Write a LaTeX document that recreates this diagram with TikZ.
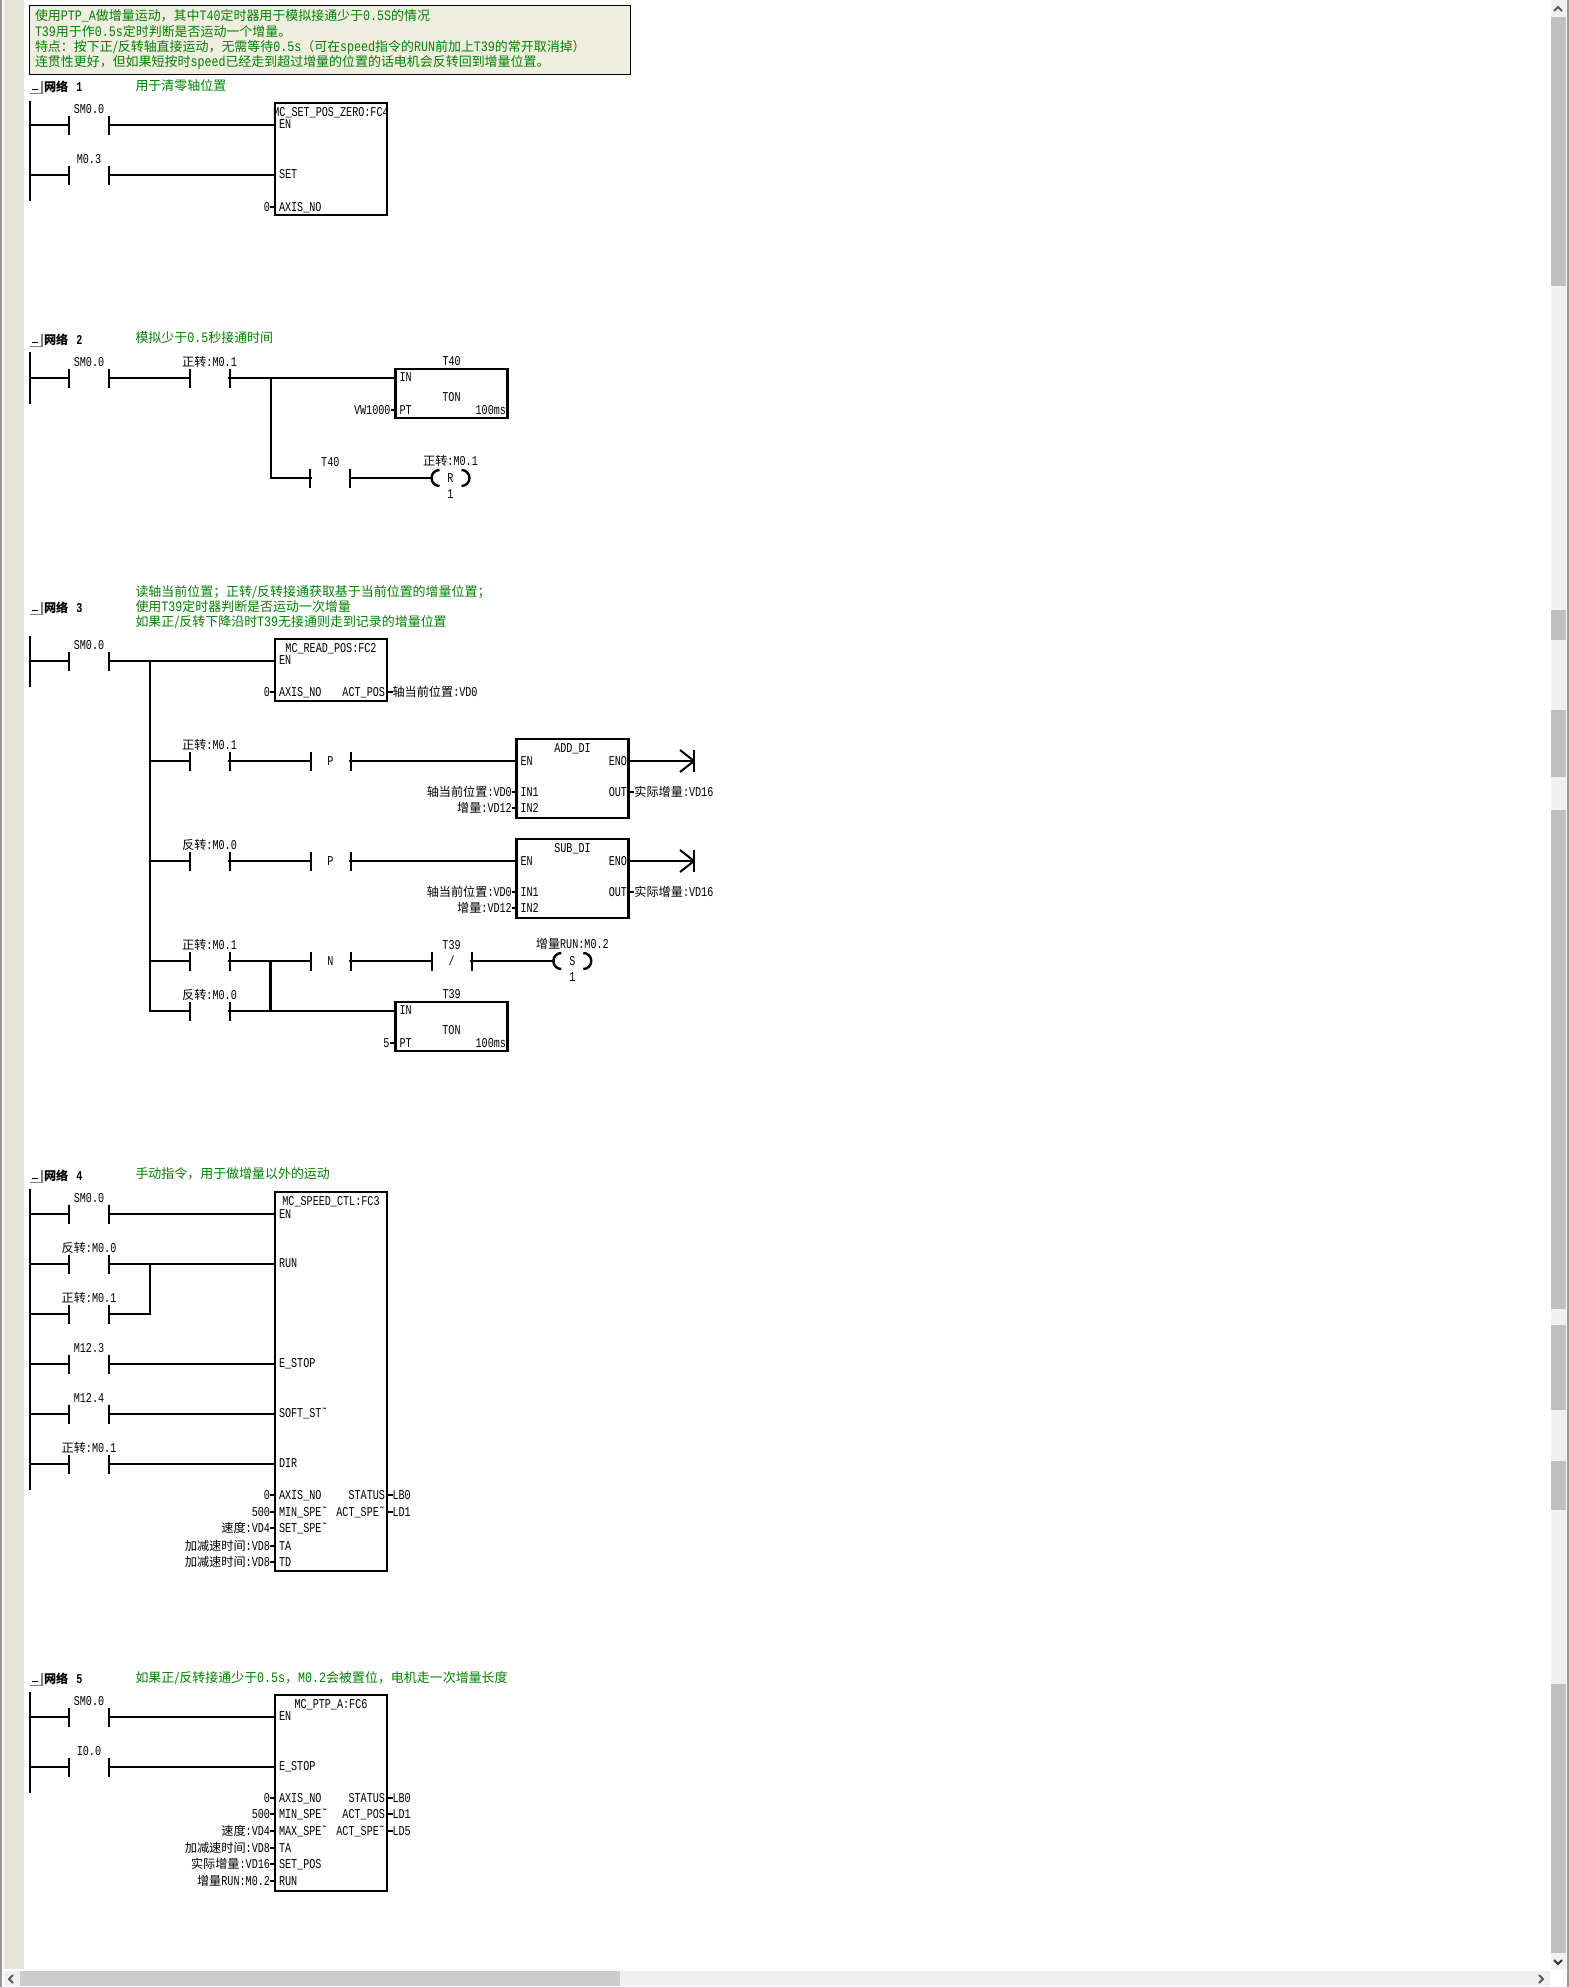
\documentclass[tikz,border=0pt]{standalone}
\usepackage{fontspec}
\setmainfont{Liberation Mono}[FakeStretch=0.75]
\newfontfamily\cjkfont{Noto Sans CJK SC}[Scale=0.9]
\newfontfamily\notefont{Liberation Mono}[FakeStretch=0.81]
\usetikzlibrary{positioning}
\definecolor{gutter}{HTML}{E6E4D8}
\definecolor{memofill}{HTML}{F0EEE1}
\definecolor{notegreen}{HTML}{008000}
\definecolor{sbtrack}{HTML}{F0F0F0}
\definecolor{sbthumb}{HTML}{BFBFBF}
\newcommand{\zh}[1]{{\cjkfont #1}}
\newcommand{\fwd}{\zh{正转}:M0.1}
\newcommand{\rev}{\zh{反转}:M0.0}

\begin{document}
\begin{tikzpicture}[x=.5pt,y=-.5pt]
\tikzstyle{every node}=[font=\fontsize{6.75}{8}\selectfont,inner sep=0,outer sep=0,
  text height=5.6pt,text depth=.9pt]
\tikzstyle{wire}=[line width=1.2pt,line cap=rect]
\tikzstyle{stub}=[line width=1.2pt]
\tikzstyle{barline}=[line width=1pt]
\tikzstyle{note}=[anchor=west,text=notegreen,font=\notefont\fontsize{7.2}{9}\selectfont]
\tikzstyle{netname}=[anchor=west,font=\fontsize{6.75}{8}\selectfont\bfseries]
\tikzstyle{fold}=[minimum width=6pt,minimum height=5.5pt,
  append after command={
    (\tikzlastnode.north east) edge[gray,line width=.8pt] (\tikzlastnode.south east)
    (\tikzlastnode.south east) edge[gray,line width=.8pt] (\tikzlastnode.south west)
    ([xshift=1pt,yshift=-1pt]\tikzlastnode.west) edge[black,line width=.5pt]
      ([xshift=4pt,yshift=-1pt]\tikzlastnode.west)}]
\tikzstyle{contact}=[minimum width=20pt,minimum height=9.5pt,
  every label/.style={yshift=.5pt},
  append after command={
    (\tikzlastnode.north west) edge[barline] (\tikzlastnode.south west)
    (\tikzlastnode.north east) edge[barline] (\tikzlastnode.south east)}]
\tikzstyle{coil}=[minimum width=19pt,minimum height=8pt,
  append after command={
    (\tikzlastnode.west) edge[wire,line cap=butt,out=90,in=180] ([xshift=4pt]\tikzlastnode.north west)
    (\tikzlastnode.west) edge[wire,line cap=butt,out=-90,in=180] ([xshift=4pt]\tikzlastnode.south west)
    (\tikzlastnode.east) edge[wire,line cap=butt,out=90,in=0] ([xshift=-4pt]\tikzlastnode.north east)
    (\tikzlastnode.east) edge[wire,line cap=butt,out=-90,in=0] ([xshift=-4pt]\tikzlastnode.south east)}]
\tikzstyle{endmark}=[minimum width=7pt,minimum height=11pt,
  append after command={
    (\tikzlastnode.north east) edge[barline] (\tikzlastnode.south east)
    (\tikzlastnode.north west) edge[barline] (\tikzlastnode.east)
    (\tikzlastnode.south west) edge[barline] (\tikzlastnode.east)}]
\tikzstyle{fblock}=[draw,line width=1.25pt,anchor=north west,minimum width=56pt]
\tikzstyle{inpin}=[anchor=west]
\tikzstyle{outpin}=[anchor=east]
\tikzstyle{lval}=[anchor=east]
\tikzstyle{rval}=[anchor=west]

\useasboundingbox (0,0) rectangle (1569,1987);

% window
\fill[gutter] (3.5,0) rectangle (24,1969);
\fill[gray!80] (0,0) rectangle (2,1987);
\fill[gray!80] (1567,0) rectangle (1569,1987);

% text at the top
\node[draw,line width=.5pt,fill=memofill,anchor=north west,minimum width=300.5pt,minimum height=34.5pt] (memo) at (29,5) {};
\node[note] (memo1) at (35,16) {\zh{使用}PTP\_A\zh{做增量运动，其中}T40\zh{定时器用于模拟接通少于}0.5S\zh{的情况}};
\node[note] (memo2) at (35,32) {T39\zh{用于作}0.5s\zh{定时判断是否运动一个增量。}};
\node[note] (memo3) at (35,47) {\zh{特点：按下正/反转轴直接运动，无需等待}0.5s\zh{（可在}speed\zh{指令的}RUN\zh{前加上}T39\zh{的常开取消掉）}};
\node[note] (memo4) at (35,62) {\zh{连贯性更好，但如果短按时}speed\zh{已经走到超过增量的位置的话电机会反转回到增量位置。}};

% network titles
\foreach \n/\y in {1/87,2/340,3/608,4/1176,5/1679} {
  \node[fold] (fold\n) at (36,\y) {};
  \node[netname] (net\n) at (44,\y) {\zh{网络}\hspace{4pt}\n};
}
\node[note] (note1) at (135.5,86) {\zh{用于清零轴位置}};
\node[note] (note2) at (135.5,338) {\zh{模拟少于}0.5\zh{秒接通时间}};
\node[note] (note3a) at (135.5,592) {\zh{读轴当前位置；正转/反转接通获取基于当前位置的增量位置；}};
\node[note] (note3b) at (135.5,607) {\zh{使用}T39\zh{定时器判断是否运动一次增量}};
\node[note] (note3c) at (135.5,622) {\zh{如果正/反转下降沿时}T39\zh{无接通则走到记录的增量位置}};
\node[note] (note4) at (135.5,1174) {\zh{手动指令，用于做增量以外的运动}};
\node[note] (note5) at (135.5,1678) {\zh{如果正/反转接通少于}0.5s\zh{，}M0.2\zh{会被置位，电机走一次增量长度}};

% network 1
\coordinate (r1t) at (30,102);
\coordinate (r1b) at (30,200);
\draw[wire] (r1t) -- (r1b);
\node[fblock,minimum height=56pt] (b1) at (275,103) {};
\node[below=1pt of b1.north] (b1t) {MC\_SET\_POS\_ZERO:FC4};
\node[contact,label={above:SM0.0}] (n1a) at (89,125) {};
\node[contact,label={above:M0.3}] (n1b) at (89,175) {};
\foreach \c in {n1a,n1b} {
  \draw[wire] (r1t |- \c) -- (\c);
  \draw[wire] (\c) -- (b1.west |- \c);
}
\node[inpin] (p124) at (279,124) {EN};
\node[inpin] (p174) at (279,174) {SET};
\node[inpin] (p207) at (279,207) {AXIS\_NO};
\node[lval] (v207) at (270,207) {0};
\draw[stub] (v207) -- (b1.west |- v207);

% network 2
\coordinate (r2t) at (30,353);
\coordinate (r2b) at (30,403);
\draw[wire] (r2t) -- (r2b);
\node[contact,label={above:SM0.0}] (n2a) at (89,378) {};
\node[contact,label={above:\fwd}] (n2b) at (209.5,378) {};
\node[fblock,minimum height=24.5pt] (b2) at (395.7,369) {};
\node[above=.75pt of b2.north] (b2t) {T40};
\node (b2f) at (451.5,397) {TON};
\node[inpin] (p377) at (399.5,377) {IN};
\node[inpin] (p410) at (399.5,410) {PT};
\node[outpin] (q410) at (506,410) {100ms};
\node[lval] (v410) at (390.5,410) {VW1000};
\coordinate (n2j) at (270.8,378);
\node[contact,label={above:T40}] (n2c) at (330.3,478) {};
\node[coil,label={[label distance=1.5pt]above:\fwd},label={[label distance=.4pt]below:1}] (n2d) at (450.5,478) {R};
\draw[wire] (r2t |- n2a) -- (n2a);
\draw[wire] (n2a) -- (n2b);
\draw[wire] (n2b) -- (b2.west |- n2b);
\draw[wire] (n2j) |- (n2c);
\draw[wire] (n2c) -- (n2d);
\draw[stub] (v410) -- (b2.west |- v410);

% network 3
\coordinate (r3t) at (30,637);
\coordinate (r3b) at (30,686);
\draw[wire] (r3t) -- (r3b);
\node[contact,label={above:SM0.0}] (n3a) at (89,661) {};
\node[fblock,minimum height=31pt] (b3) at (275,639) {};
\node[below=1pt of b3.north] (b3t) {MC\_READ\_POS:FC2};
\node[inpin] (p660) at (279,660) {EN};
\node[inpin] (p692) at (279,692) {AXIS\_NO};
\node[outpin] (q692) at (385,692) {ACT\_POS};
\node[lval] (v692) at (270,692) {0};
\node[rval] (w692) at (392.5,692) {\zh{轴当前位置}:VD0};
\draw[stub] (v692) -- (b3.west |- v692);
\draw[stub] (b3.east |- w692) -- (w692);
\coordinate (n3j) at (150,661);
\draw[wire] (r3t |- n3a) -- (n3a);
\draw[wire] (n3a) -- (b3.west |- n3a);
% the two counting rungs
\foreach \i/\y/\lbl/\fn in {p/761/\fwd/ADD\_DI,q/861/\rev/SUB\_DI} {
  \node[contact,label={above:\lbl}] (n3\i a) at (209.5,\y) {};
  \node[contact] (n3\i b) at (330.5,\y) {P};
  \node[fblock,minimum height=39.5pt] (b3\i) at (516.5,\y-22) {};
  \node[below=1pt of b3\i.north] (b3\i t) {\fn};
  \node[inpin] (p\i a) at (520.5,\y) {EN};
  \node[outpin] (q\i a) at (627,\y) {ENO};
  \node[inpin] (p\i b) at (520.5,\y+31) {IN1};
  \node[outpin] (q\i b) at (627,\y+31) {OUT};
  \node[inpin] (p\i c) at (520.5,\y+47) {IN2};
  \node[lval] (v\i b) at (511.8,\y+31) {\zh{轴当前位置}:VD0};
  \node[lval] (v\i c) at (511.8,\y+47) {\zh{增量}:VD12};
  \node[rval] (w\i b) at (634.4,\y+31) {\zh{实际增量}:VD16};
  \node[endmark] (n3\i e) at (687,\y) {};
  \draw[wire] (n3j |- n3\i a) -- (n3\i a);
  \draw[wire] (n3\i a) -- (n3\i b);
  \draw[wire] (n3\i b) -- (b3\i.west |- n3\i b);
  \draw[wire] (b3\i.east |- n3\i e) -- (n3\i e.east);
  \draw[stub] (v\i b) -- (b3\i.west |- v\i b);
  \draw[stub] (v\i c) -- (b3\i.west |- v\i c);
  \draw[stub] (b3\i.east |- w\i b) -- (w\i b);
}
\node[contact,label={above:\fwd}] (n3f) at (209.5,961) {};
\node[contact] (n3g) at (330.5,961) {N};
\node[contact,label={above:T39}] (n3h) at (451.6,961) {/};
\node[coil,label={[label distance=1.5pt]above:\zh{增量}RUN:M0.2},label={[label distance=.4pt]below:1}] (n3i) at (572.3,961) {S};
\node[contact,label={above:\rev}] (n3k) at (209.5,1011) {};
\node[fblock,minimum height=24.5pt] (b3t39) at (395.7,1002) {};
\node[above=.75pt of b3t39.north] (b3t39t) {T39};
\node (b3t39f) at (451.5,1030) {TON};
\node[inpin] (p1010) at (399.5,1010) {IN};
\node[inpin] (p1043) at (399.5,1043) {PT};
\node[outpin] (q1043) at (506,1043) {100ms};
\node[lval] (v1043) at (389.5,1043) {5};
\coordinate (n3m) at (270.5,961);
\draw[wire] (n3j) |- (n3k);
\draw[wire] (n3j |- n3f) -- (n3f);
\draw[wire] (n3f) -- (n3g);
\draw[wire] (n3g) -- (n3h);
\draw[wire] (n3h) -- (n3i);
\draw[wire] (n3k) -- (b3t39.west |- n3k);
\draw[wire] (n3m) -- (n3m |- n3k);
\draw[stub] (v1043) -- (b3t39.west |- v1043);

% network 4
\coordinate (r4t) at (30,1190);
\coordinate (r4b) at (30,1489);
\draw[wire] (r4t) -- (r4b);
\node[fblock,minimum height=189.5pt] (b4) at (275,1192) {};
\node[below=1pt of b4.north] (b4t) {MC\_SPEED\_CTL:FC3};
\foreach \c/\y/\lbl in {n4a/1214/SM0.0,n4b/1264/\rev,n4c/1314/\fwd,n4d/1364/M12.3,n4e/1414/M12.4,n4f/1464/\fwd} {
  \node[contact,label={above:\lbl}] (\c) at (89,\y) {};
  \draw[wire] (r4t |- \c) -- (\c);
}
\foreach \c in {n4a,n4b,n4d,n4e,n4f}
  \draw[wire] (\c) -- (b4.west |- \c);
\coordinate (n4j) at (150,1264);
\draw[wire] (n4c) -| (n4j);
\foreach \y/\pinname in {1214/EN,1263/RUN,1363/E\_STOP,1413/SOFT\_ST˜,1463/DIR}
  \node[inpin] (p\y) at (279,\y) {\pinname};
\foreach \y/\val/\pinname in {1495/0/AXIS\_NO,1512/500/MIN\_SPE˜,1528/\zh{速度}:VD4/SET\_SPE˜,
    1546/\zh{加减速时间}:VD8/TA,1562/\zh{加减速时间}:VD8/TD} {
  \node[inpin] (p\y) at (279,\y) {\pinname};
  \node[lval] (v\y) at (270,\y) {\val};
  \draw[stub] (v\y) -- (b4.west |- v\y);
}
\foreach \y/\pinname/\val in {1495/STATUS/LB0,1512/ACT\_SPE˜/LD1} {
  \node[outpin] (q\y) at (385,\y) {\pinname};
  \node[rval] (w\y) at (392.5,\y) {\val};
  \draw[stub] (b4.east |- w\y) -- (w\y);
}

% network 5
\coordinate (r5t) at (30,1693);
\coordinate (r5b) at (30,1792);
\draw[wire] (r5t) -- (r5b);
\node[fblock,minimum height=98pt] (b5) at (275,1695) {};
\node[below=1pt of b5.north] (b5t) {MC\_PTP\_A:FC6};
\node[contact,label={above:SM0.0}] (n5a) at (89,1717) {};
\node[contact,label={above:I0.0}] (n5b) at (89,1767) {};
\foreach \c in {n5a,n5b} {
  \draw[wire] (r5t |- \c) -- (\c);
  \draw[wire] (\c) -- (b5.west |- \c);
}
\node[inpin] (p1716) at (279,1716) {EN};
\node[inpin] (p1766) at (279,1766) {E\_STOP};
\foreach \y/\val/\pinname in {1798/0/AXIS\_NO,1814/500/MIN\_SPE˜,1831/\zh{速度}:VD4/MAX\_SPE˜,
    1848/\zh{加减速时间}:VD8/TA,1864/\zh{实际增量}:VD16/SET\_POS,1881/\zh{增量}RUN:M0.2/RUN} {
  \node[inpin] (p\y) at (279,\y) {\pinname};
  \node[lval] (v\y) at (270,\y) {\val};
  \draw[stub] (v\y) -- (b5.west |- v\y);
}
\foreach \y/\pinname/\val in {1798/STATUS/LB0,1814/ACT\_POS/LD1,1831/ACT\_SPE˜/LD5} {
  \node[outpin] (q\y) at (385,\y) {\pinname};
  \node[rval] (w\y) at (392.5,\y) {\val};
  \draw[stub] (b5.east |- w\y) -- (w\y);
}

% scroll bars
\fill[sbtrack] (1551,0) rectangle (1566,1970);
\foreach \a/\b in {17/286,610/640,710/777,810/1309,1325/1410,1461/1510,1684/1953}
  \fill[sbthumb] (1551,\a) rectangle (1566,\b);
\fill[sbtrack] (3.5,1971) rectangle (1550,1986);
\fill[gray!40] (20,1971) rectangle (620,1986);
\draw[black!65,line width=1pt] (1554,11) -- (1558,7) -- (1562,11);
\draw[black!80,line width=1pt] (1554,1960) -- (1558,1964) -- (1562,1960);
\draw[black!65,line width=1pt] (13,1975) -- (9,1979) -- (13,1983);
\draw[black!65,line width=1pt] (1539,1975) -- (1543,1979) -- (1539,1983);
\end{tikzpicture}
\end{document}
